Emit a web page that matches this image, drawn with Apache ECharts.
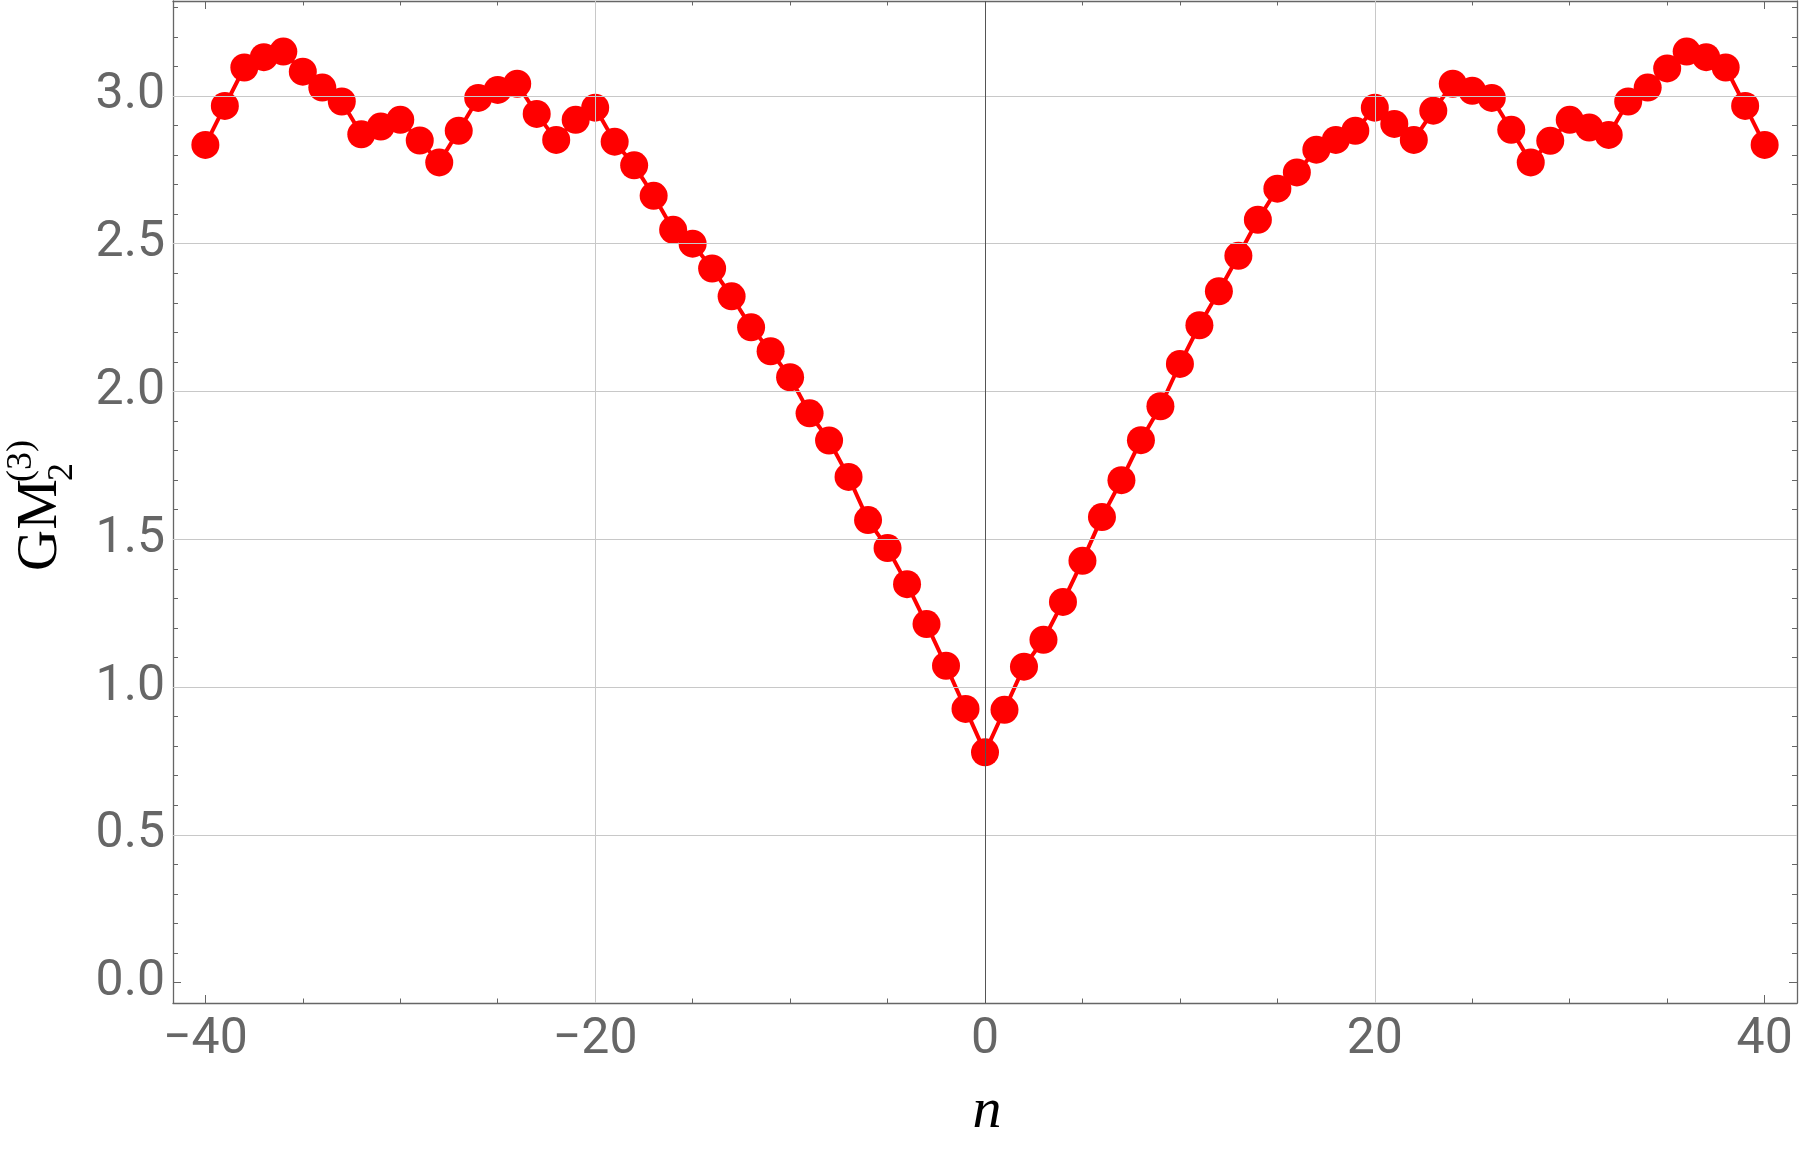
<!DOCTYPE html>
<html>
<head>
<meta charset="utf-8">
<title>GM2(3) vs n</title>
<script src="https://cdn.jsdelivr.net/npm/echarts/dist/echarts.min.js"></script>
<style>
  html, body { margin: 0; padding: 0; background: #fff; }
  #chart { width: 1800px; height: 1155px; }
</style>
</head>
<body>
<div id="chart"></div>
<script>
// n 取值
const nValues = [
  -40, -39, -38, -37, -36, -35, -34, -33, -32, -31,
  -30, -29, -28, -27, -26, -25, -24, -23, -22, -21,
  -20, -19, -18, -17, -16, -15, -14, -13, -12, -11,
  -10, -9, -8, -7, -6, -5, -4, -3, -2, -1,
  0,
  1, 2, 3, 4, 5, 6, 7, 8, 9, 10,
  11, 12, 13, 14, 15, 16, 17, 18, 19, 20,
  21, 22, 23, 24, 25, 26, 27, 28, 29, 30,
  31, 32, 33, 34, 35, 36, 37, 38, 39, 40
]
// GM_2^(3) 的值
const gmValues = [
  2.834, 2.966, 3.096, 3.131, 3.150, 3.082, 3.028, 2.981, 2.870, 2.896,
  2.919, 2.849, 2.775, 2.882, 2.993, 3.020, 3.041, 2.939, 2.851, 2.919,
  2.960, 2.845, 2.765, 2.662, 2.547, 2.500, 2.416, 2.322, 2.217, 2.136,
  2.048, 1.926, 1.834, 1.711, 1.565, 1.470, 1.348, 1.213, 1.072, 0.926,
  0.779,
  0.923, 1.069, 1.160, 1.288, 1.427, 1.575, 1.700, 1.835, 1.950, 2.093,
  2.224, 2.339, 2.459, 2.581, 2.686, 2.741, 2.818, 2.851, 2.882, 2.960,
  2.905, 2.851, 2.950, 3.041, 3.017, 2.993, 2.885, 2.775, 2.848, 2.919,
  2.893, 2.868, 2.981, 3.028, 3.093, 3.150, 3.131, 3.096, 2.966, 2.834
]

// 刻度
const xMajorTicks = [-40, -20, 0, 20, 40]
const xMinorTicks = [-35, -30, -25, -15, -10, -5, 5, 10, 15, 25, 30, 35]
const yMajorTicks = [0, 0.5, 1, 1.5, 2, 2.5, 3]
const yMinorTicks = [0.1, 0.2, 0.3, 0.4, 0.6, 0.7, 0.8, 0.9, 1.1, 1.2, 1.3, 1.4,
  1.6, 1.7, 1.8, 1.9, 2.1, 2.2, 2.3, 2.4, 2.6, 2.7, 2.8, 2.9, 3.1, 3.2, 3.3]
// 网格线
const xGridLines = [-20, 20]
const yGridLines = [0.5, 1, 1.5, 2, 2.5, 3]
const xAxisLines = [0]

const xRange = [-41.66, 41.66]
const yRange = [-0.069, 3.321]

const frameColor = '#666'
const labelFont = 'Roboto, "Liberation Sans", sans-serif'
const mathFont = '"Liberation Serif", "DejaVu Serif", serif'

const myChart = echarts.init(document.getElementById('chart'), null, {renderer: 'canvas'})

const makeX = (position, ticks, len, withLine, withLabel) => ({
  type: 'value',
  position,
  min: xRange[0],
  max: xRange[1],
  axisLine: {show: withLine, onZero: false, lineStyle: {color: frameColor, width: 1.3}},
  axisTick: {show: true, inside: true, length: len, customValues: ticks, lineStyle: {color: frameColor, width: 1}},
  axisLabel: {
    show: withLabel,
    customValues: ticks,
    color: frameColor,
    fontSize: 50,
    fontFamily: labelFont,
    margin: 12,
    formatter: (val) => (val < 0 ? '\u2212' + Math.abs(val) : String(val))
  },
  splitLine: {show: false}
})

const makeY = (position, ticks, len, withLine, withLabel) => ({
  type: 'value',
  position,
  min: yRange[0],
  max: yRange[1],
  axisLine: {show: withLine, onZero: false, lineStyle: {color: frameColor, width: 1.3}},
  axisTick: {show: true, inside: true, length: len, customValues: ticks, lineStyle: {color: frameColor, width: 1}},
  axisLabel: {
    show: withLabel,
    customValues: ticks,
    color: frameColor,
    fontSize: 50,
    fontFamily: labelFont,
    margin: 8,
    formatter: (val) => val.toFixed(1)
  },
  splitLine: {show: false}
})

const option = {
  animation: false,
  backgroundColor: '#fff',
  grid: {left: 173, right: 3, top: 1, bottom: 152, containLabel: false},
  xAxis: [
    makeX('bottom', xMajorTicks, 8, true, true),
    makeX('bottom', xMinorTicks, 4.5, false, false),
    makeX('top', xMajorTicks, 8, true, false),
    makeX('top', xMinorTicks, 4.5, false, false)
  ],
  yAxis: [
    makeY('left', yMajorTicks, 8, true, true),
    makeY('left', yMinorTicks, 5, false, false),
    makeY('right', yMajorTicks, 8, true, false),
    makeY('right', yMinorTicks, 5, false, false)
  ],
  graphic: [
    {
      type: 'text',
      x: 987,
      y: 1112,
      silent: true,
      style: {
        text: 'n',
        font: 'italic 58px ' + mathFont,
        fill: '#000',
        textAlign: 'center',
        textVerticalAlign: 'middle'
      }
    },
    {
      // 纵轴标题 GM_2^(3)
      type: 'group',
      x: 41,
      y: 505,
      rotation: Math.PI / 2,
      silent: true,
      children: [
        {type: 'text', x: -20, y: 0, style: {text: 'GM', font: '57px ' + mathFont, fill: '#000', textAlign: 'center', textVerticalAlign: 'middle'}},
        {type: 'text', x: 33, y: 22, style: {text: '2', font: '36px ' + mathFont, fill: '#000', textAlign: 'center', textVerticalAlign: 'middle'}},
        {type: 'text', x: 44, y: -19, style: {text: '(3)', font: '36px ' + mathFont, fill: '#000', textAlign: 'center', textVerticalAlign: 'middle'}}
      ]
    }
  ],
  series: [
    {
      // 浅灰网格线
      type: 'line',
      data: [],
      z: 1,
      silent: true,
      markLine: {
        silent: true,
        symbol: 'none',
        label: {show: false},
        lineStyle: {color: '#c8c8c8', width: 1, type: 'solid'},
        data: [
          ...xGridLines.map(v => ({xAxis: v})),
          ...yGridLines.map(v => ({yAxis: v}))
        ]
      }
    },
    {
      name: 'GM',
      type: 'line',
      z: 2,
      data: nValues.map((n, i) => [n, gmValues[i]]),
      symbol: 'circle',
      symbolSize: 28,
      showAllSymbol: true,
      lineStyle: {color: '#ff0000', width: 4},
      itemStyle: {color: '#ff0000'}
    },
    {
      // n = 0 处的坐标轴
      type: 'line',
      data: [],
      z: 3,
      silent: true,
      markLine: {
        silent: true,
        symbol: 'none',
        label: {show: false},
        lineStyle: {color: '#555', width: 1, type: 'solid'},
        data: xAxisLines.map(v => ({xAxis: v}))
      }
    }
  ]
}

option && myChart.setOption(option)
</script>
</body>
</html>
